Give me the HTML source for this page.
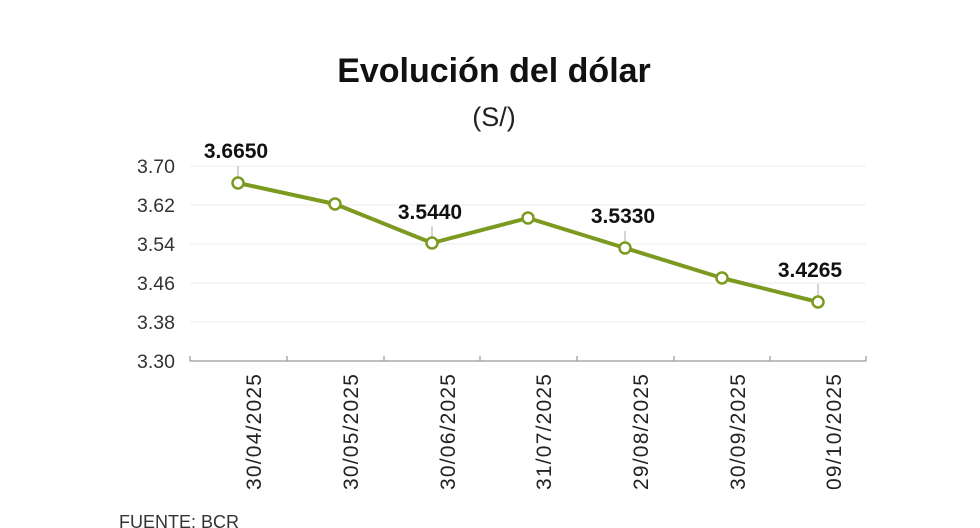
<!DOCTYPE html>
<html><head><meta charset="utf-8"><style>
html,body{margin:0;padding:0;background:#fff;}
svg{display:block;font-family:"Liberation Sans",sans-serif;}
</style></head><body>
<svg width="980" height="528" viewBox="0 0 980 528" xmlns="http://www.w3.org/2000/svg">
<text x="494" y="82" text-anchor="middle" font-size="34" font-weight="bold" fill="#111">Evolución del dólar</text>
<text x="494" y="126" text-anchor="middle" font-size="27" fill="#222">(S/)</text>
<g stroke="#eee" stroke-width="1">
<line x1="190" y1="166" x2="866" y2="166"/><line x1="190" y1="205" x2="866" y2="205"/>
<line x1="190" y1="244" x2="866" y2="244"/><line x1="190" y1="283" x2="866" y2="283"/>
<line x1="190" y1="322" x2="866" y2="322"/>
</g>
<g font-size="19.5" fill="#333" text-anchor="end">
<text x="175" y="173">3.70</text><text x="175" y="212">3.62</text><text x="175" y="251">3.54</text>
<text x="175" y="290">3.46</text><text x="175" y="329">3.38</text><text x="175" y="368">3.30</text>
</g>
<g stroke="#999" stroke-width="1.2">
<line x1="190" y1="361" x2="866" y2="361"/>
<line x1="190" y1="356" x2="190" y2="361"/><line x1="287" y1="356" x2="287" y2="361"/>
<line x1="384" y1="356" x2="384" y2="361"/><line x1="480" y1="356" x2="480" y2="361"/>
<line x1="577" y1="356" x2="577" y2="361"/><line x1="674" y1="356" x2="674" y2="361"/>
<line x1="770" y1="356" x2="770" y2="361"/><line x1="866" y1="356" x2="866" y2="361"/>
</g>
<g stroke="#aaa" stroke-width="1">
<line x1="238" y1="166" x2="238" y2="178"/><line x1="432" y1="226" x2="432" y2="238"/>
<line x1="625" y1="231" x2="625" y2="243"/><line x1="818" y1="284" x2="818" y2="297"/>
</g>
<polyline points="238,183 335,204 432,243 528,218 625,248 722,278 818,302" fill="none" stroke="#7b9a1f" stroke-width="4" stroke-linejoin="round"/>
<g fill="#fff" stroke="#7b9a1f" stroke-width="2.5">
<circle cx="238" cy="183" r="5.5"/><circle cx="335" cy="204" r="5.5"/><circle cx="432" cy="243" r="5.5"/>
<circle cx="528" cy="218" r="5.5"/><circle cx="625" cy="248" r="5.5"/><circle cx="722" cy="278" r="5.5"/>
<circle cx="818" cy="302" r="5.5"/>
</g>
<g font-size="21" font-weight="bold" fill="#111" text-anchor="middle">
<text x="236" y="158">3.6650</text><text x="430" y="219">3.5440</text>
<text x="623" y="223">3.5330</text><text x="810" y="277">3.4265</text>
</g>
<g font-size="21" fill="#222">
<text transform="translate(261,490) rotate(-90)" textLength="116">30/04/2025</text>
<text transform="translate(358,490) rotate(-90)" textLength="116">30/05/2025</text>
<text transform="translate(455,490) rotate(-90)" textLength="116">30/06/2025</text>
<text transform="translate(551,490) rotate(-90)" textLength="116">31/07/2025</text>
<text transform="translate(648,490) rotate(-90)" textLength="116">29/08/2025</text>
<text transform="translate(745,490) rotate(-90)" textLength="116">30/09/2025</text>
<text transform="translate(841,490) rotate(-90)" textLength="116">09/10/2025</text>
</g>
<text x="119" y="528" font-size="18" fill="#333">FUENTE: BCR</text>
</svg>
</body></html>
